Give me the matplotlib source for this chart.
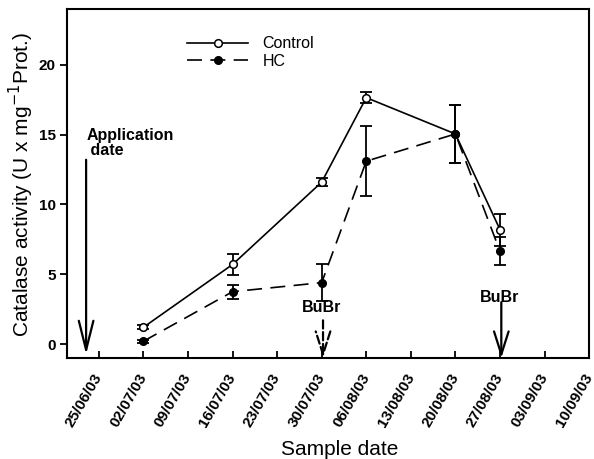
import datetime as dt
import matplotlib
matplotlib.use('Agg')
import matplotlib.pyplot as plt

plt.rcParams['font.family'] = ['Liberation Sans', 'DejaVu Sans']

# data
sample_dates = ['02/07/03', '16/07/03', '30/07/03', '06/08/03', '20/08/03', '27/08/03']
control_mean = [1.2, 5.7, 11.6, 17.65, 15.05, 8.2]
control_err = [0.15, 0.75, 0.3, 0.4, 2.1, 1.15]
hc_mean = [0.2, 3.75, 4.4, 13.1, 15.05, 6.65]
hc_err = [0.1, 0.5, 1.3, 2.5, 2.1, 1.0]

tick_dates = ['25/06/03', '02/07/03', '09/07/03', '16/07/03', '23/07/03', '30/07/03',
              '06/08/03', '13/08/03', '20/08/03', '27/08/03', '03/09/03', '10/09/03']

# annotation arrows
application_date = '23/06/03'
bubr_dates = ['30/07/03', '27/08/03']
bubr_text_y = [2.65, 3.3]
bubr_start_y = [1.7, 3.0]
bubr_styles = ['--', '-']


def to_date(s):
    return dt.datetime.strptime(s, '%d/%m/%y')


x = [to_date(d) for d in sample_dates]
ticks = [to_date(d) for d in tick_dates]

fig = plt.figure(figsize=(5.94, 4.59), dpi=100)
ax = fig.add_axes([0.1128, 0.22, 0.879, 0.7604])

ax.errorbar(x, control_mean, yerr=control_err, fmt='none', ecolor='black',
            elinewidth=1.3, capsize=4.3, capthick=1.3, zorder=2)
ax.errorbar(x, hc_mean, yerr=hc_err, fmt='none', ecolor='black',
            elinewidth=1.3, capsize=4.3, capthick=1.3, zorder=2)
ax.plot(x, control_mean, '-', color='black', lw=1.2, marker='o', ms=5.5,
        mfc='white', mec='black', mew=1.1, label='Control', zorder=3)
ax.plot(x, hc_mean, color='black', lw=1.2, dashes=(9, 5), marker='o', ms=5.5,
        mfc='black', mec='black', label='HC', zorder=3)

# application date arrow
app = to_date(application_date)
ax.annotate('', xy=(app, -0.75), xytext=(app, 13.2),
            arrowprops=dict(arrowstyle='->,head_length=1.4,head_width=0.35',
                            lw=1.6, color='black', shrinkA=0, shrinkB=0,
                            mutation_scale=15))
ax.text(app, 13.35, 'Application\n date', ha='left', va='bottom',
        fontsize=11.5, fontweight='bold', linespacing=1.0)

for d, ty, sy, ls in zip(bubr_dates, bubr_text_y, bubr_start_y, bubr_styles):
    bd = to_date(d) + dt.timedelta(hours=5)
    ax.annotate('', xy=(bd, -1.0), xytext=(bd, sy),
                arrowprops=dict(arrowstyle='->,head_length=1.1,head_width=0.35',
                                lw=1.6, color='black', shrinkA=0, shrinkB=0,
                                linestyle=ls, mutation_scale=15))
    ax.text(to_date(d), ty, 'BuBr', ha='center', va='center',
            fontsize=11.5, fontweight='bold')

ax.set_xlim(to_date('20/06/03'), to_date('10/09/03'))
ax.set_ylim(-1, 24)
ax.set_xticks(ticks)
ax.set_xticklabels(tick_dates, rotation=60, ha='right', va='center',
                   rotation_mode='anchor', fontsize=11, fontweight='bold')
ax.set_yticks([0, 5, 10, 15, 20])
ax.set_yticklabels(['0', '5', '10', '15', '20'], fontsize=11, fontweight='bold')
ax.tick_params(axis='x', direction='in', length=5, width=1.3, pad=12)
ax.tick_params(axis='y', direction='out', length=5, width=1.3, pad=3)
for s in ax.spines.values():
    s.set_linewidth(1.5)

ax.set_xlabel('Sample date', fontsize=15)
ax.xaxis.set_label_coords(0.523, -0.235)
ax.set_ylabel('Catalase activity (U x mg$^{-1}$Prot.)', fontsize=15)
ax.yaxis.set_label_coords(-0.06, 0.497)

ax.legend(loc='upper left', bbox_to_anchor=(0.215, 0.945), frameon=False,
          fontsize=11.5, handlelength=3.8, handletextpad=0.9, labelspacing=0.15,
          borderpad=0)

fig.savefig('out.png', dpi=100)
